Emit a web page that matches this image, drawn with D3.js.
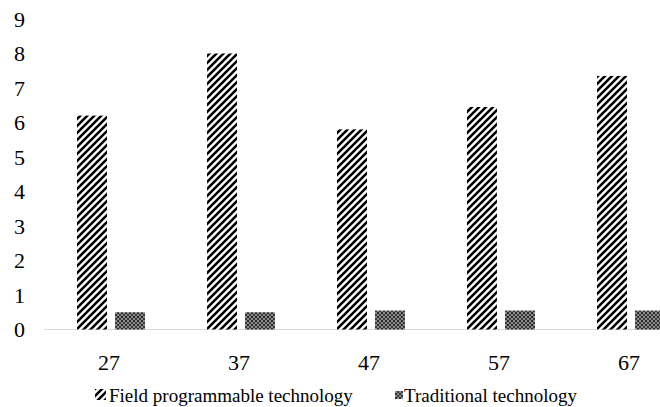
<!DOCTYPE html>
<html>
<head>
<meta charset="utf-8">
<script src="https://cdn.jsdelivr.net/npm/d3@7"></script>
<style>
  body { margin: 0; background: #fff; }
  svg { display: block; font-family: "Liberation Serif", "Times New Roman", serif; }
</style>
</head>
<body>
<svg id="chart" width="660" height="407"></svg>
<script>
const categories = ['27', '37', '47', '57', '67'];
const seriesNames = ['Field programmable technology', 'Traditional technology'];
const fieldValues = [6.2, 8.0, 5.8, 6.45, 7.35];
const traditionalValues = [0.5, 0.5, 0.55, 0.55, 0.55];
const yTicks = [0, 1, 2, 3, 4, 5, 6, 7, 8, 9];

const svg = d3.select('#chart');
const defs = svg.append('defs');

// hatch for field programmable
const hatch = defs.append('pattern')
  .attr('id', 'hatch')
  .attr('patternUnits', 'userSpaceOnUse')
  .attr('width', 7).attr('height', 7);
hatch.append('rect').attr('width', 7).attr('height', 7).attr('fill', '#fff');
hatch.append('path')
  .attr('d', 'M-1,8 L8,-1 M-4,4 L4,-4 M3,11 L11,3')
  .attr('stroke', '#000').attr('stroke-width', 2.6);

// dotted grey for traditional
const dots = defs.append('pattern')
  .attr('id', 'dots')
  .attr('patternUnits', 'userSpaceOnUse')
  .attr('width', 4).attr('height', 4);
dots.append('rect').attr('width', 4).attr('height', 4).attr('fill', '#8a8a8a');
dots.append('rect').attr('width', 2).attr('height', 2).attr('fill', '#2b2b2b');
dots.append('rect').attr('x', 2).attr('y', 2).attr('width', 2).attr('height', 2).attr('fill', '#3a3a3a');

const fills = ['url(#hatch)', 'url(#dots)'];

const x0 = d3.scaleBand()
  .domain(categories)
  .range([46, 696])
  .paddingInner(62 / 130)
  .paddingOuter(0.2385);

const x1 = d3.scaleBand()
  .domain(seriesNames)
  .range([0, x0.bandwidth()])
  .paddingInner(0.21);

const y = d3.scaleLinear().domain([0, 9]).range([329.5, 19]);

const rows = categories.map((c, i) => ({ cat: c, vals: [fieldValues[i], traditionalValues[i]] }));

// baseline
svg.append('line')
  .attr('x1', 44).attr('x2', 660)
  .attr('y1', y(0)).attr('y2', y(0))
  .attr('stroke', '#d9d9d9').attr('stroke-width', 1);

const groups = svg.selectAll('.grp')
  .data(rows)
  .enter()
  .append('g')
  .attr('class', 'grp')
  .attr('transform', d => `translate(${x0(d.cat)},0)`);

groups.selectAll('rect')
  .data(d => d.vals.map((v, j) => ({ name: seriesNames[j], v, j })))
  .enter()
  .append('rect')
  .attr('x', d => x1(d.name))
  .attr('y', d => y(d.v))
  .attr('width', x1.bandwidth())
  .attr('height', d => y(0) - y(d.v))
  .attr('fill', d => fills[d.j]);

// y axis labels
const yAxis = d3.axisLeft(y).tickValues(yTicks).tickSize(0).tickPadding(0);
svg.append('g')
  .attr('transform', 'translate(25,0)')
  .call(yAxis)
  .call(g => g.select('.domain').remove())
  .selectAll('text')
  .attr('font-family', '"Liberation Serif", serif')
  .attr('font-size', 22)
  .attr('fill', '#000');

// x axis labels
const xAxis = d3.axisBottom(x0).tickSize(0).tickPadding(0);
svg.append('g')
  .attr('transform', 'translate(-2,354)')
  .call(xAxis)
  .call(g => g.select('.domain').remove())
  .selectAll('text')
  .attr('font-family', '"Liberation Serif", serif')
  .attr('font-size', 22)
  .attr('fill', '#000');

// legend
const legendX = [95, 395];
const legend = svg.selectAll('.leg')
  .data(seriesNames)
  .enter()
  .append('g')
  .attr('class', 'leg')
  .attr('transform', (d, i) => `translate(${legendX[i]},389)`);

legend.append('rect')
  .attr('width', (d, i) => i === 0 ? 11 : 8)
  .attr('height', (d, i) => i === 0 ? 11 : 8)
  .attr('y', (d, i) => i === 0 ? 0 : 2)
  .attr('fill', (d, i) => fills[i]);

legend.append('text')
  .attr('x', (d, i) => i === 0 ? 14 : 9)
  .attr('y', 6)
  .attr('dy', '0.35em')
  .attr('font-size', 19)
  .attr('fill', '#000')
  .text(d => d);
</script>
</body>
</html>
